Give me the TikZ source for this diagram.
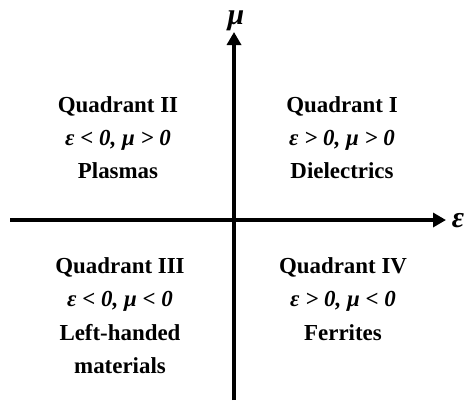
\documentclass[tikz,border=0pt]{standalone}
\usepackage{fontspec}
\setmainfont{Liberation Serif}
\usetikzlibrary{arrows.meta}
\begin{document}
\begin{tikzpicture}[x=1bp,y=-1bp,
  axis/.style={line width=3.6bp,-{Triangle[length=13bp,width=14bp]}},
  qtext/.style={font=\fontsize{23}{27}\selectfont\bfseries,anchor=base,inner sep=0pt},
  qmath/.style={qtext,font=\fontsize{23}{27}\selectfont\bfseries\itshape},
  axlabel/.style={font=\fontsize{30}{30}\selectfont\bfseries\itshape,anchor=base,inner sep=0pt}]
\useasboundingbox (0,0) rectangle (467,400);
\coordinate (xs) at (10,220);
\coordinate (xe) at (446,220);
\coordinate (ys) at (234,400);
\coordinate (ye) at (234,32);
\draw[axis] (xs) -- (xe);
\draw[axis] (ys) -- (ye);
\node[axlabel] (mu) at (236,24) {μ};
\node[axlabel] (eps) at (458,227) {ε};
% Quadrant II
\node[qtext] (q2a) at (118,112) {Quadrant II};
\node[qmath] (q2b) at (118,145) {ε < 0, μ > 0};
\node[qtext] (q2c) at (118,178) {Plasmas};
% Quadrant I
\node[qtext] (q1a) at (342,112) {Quadrant I};
\node[qmath] (q1b) at (342,145) {ε > 0, μ > 0};
\node[qtext] (q1c) at (342,178) {Dielectrics};
% Quadrant III
\node[qtext] (q3a) at (120,273) {Quadrant III};
\node[qmath] (q3b) at (120,306.5) {ε < 0, μ < 0};
\node[qtext] (q3c) at (120,340) {Left-handed};
\node[qtext] (q3d) at (120,373) {materials};
% Quadrant IV
\node[qtext] (q4a) at (343,273) {Quadrant IV};
\node[qmath] (q4b) at (343,306.5) {ε > 0, μ < 0};
\node[qtext] (q4c) at (343,340) {Ferrites};
\end{tikzpicture}
\end{document}
